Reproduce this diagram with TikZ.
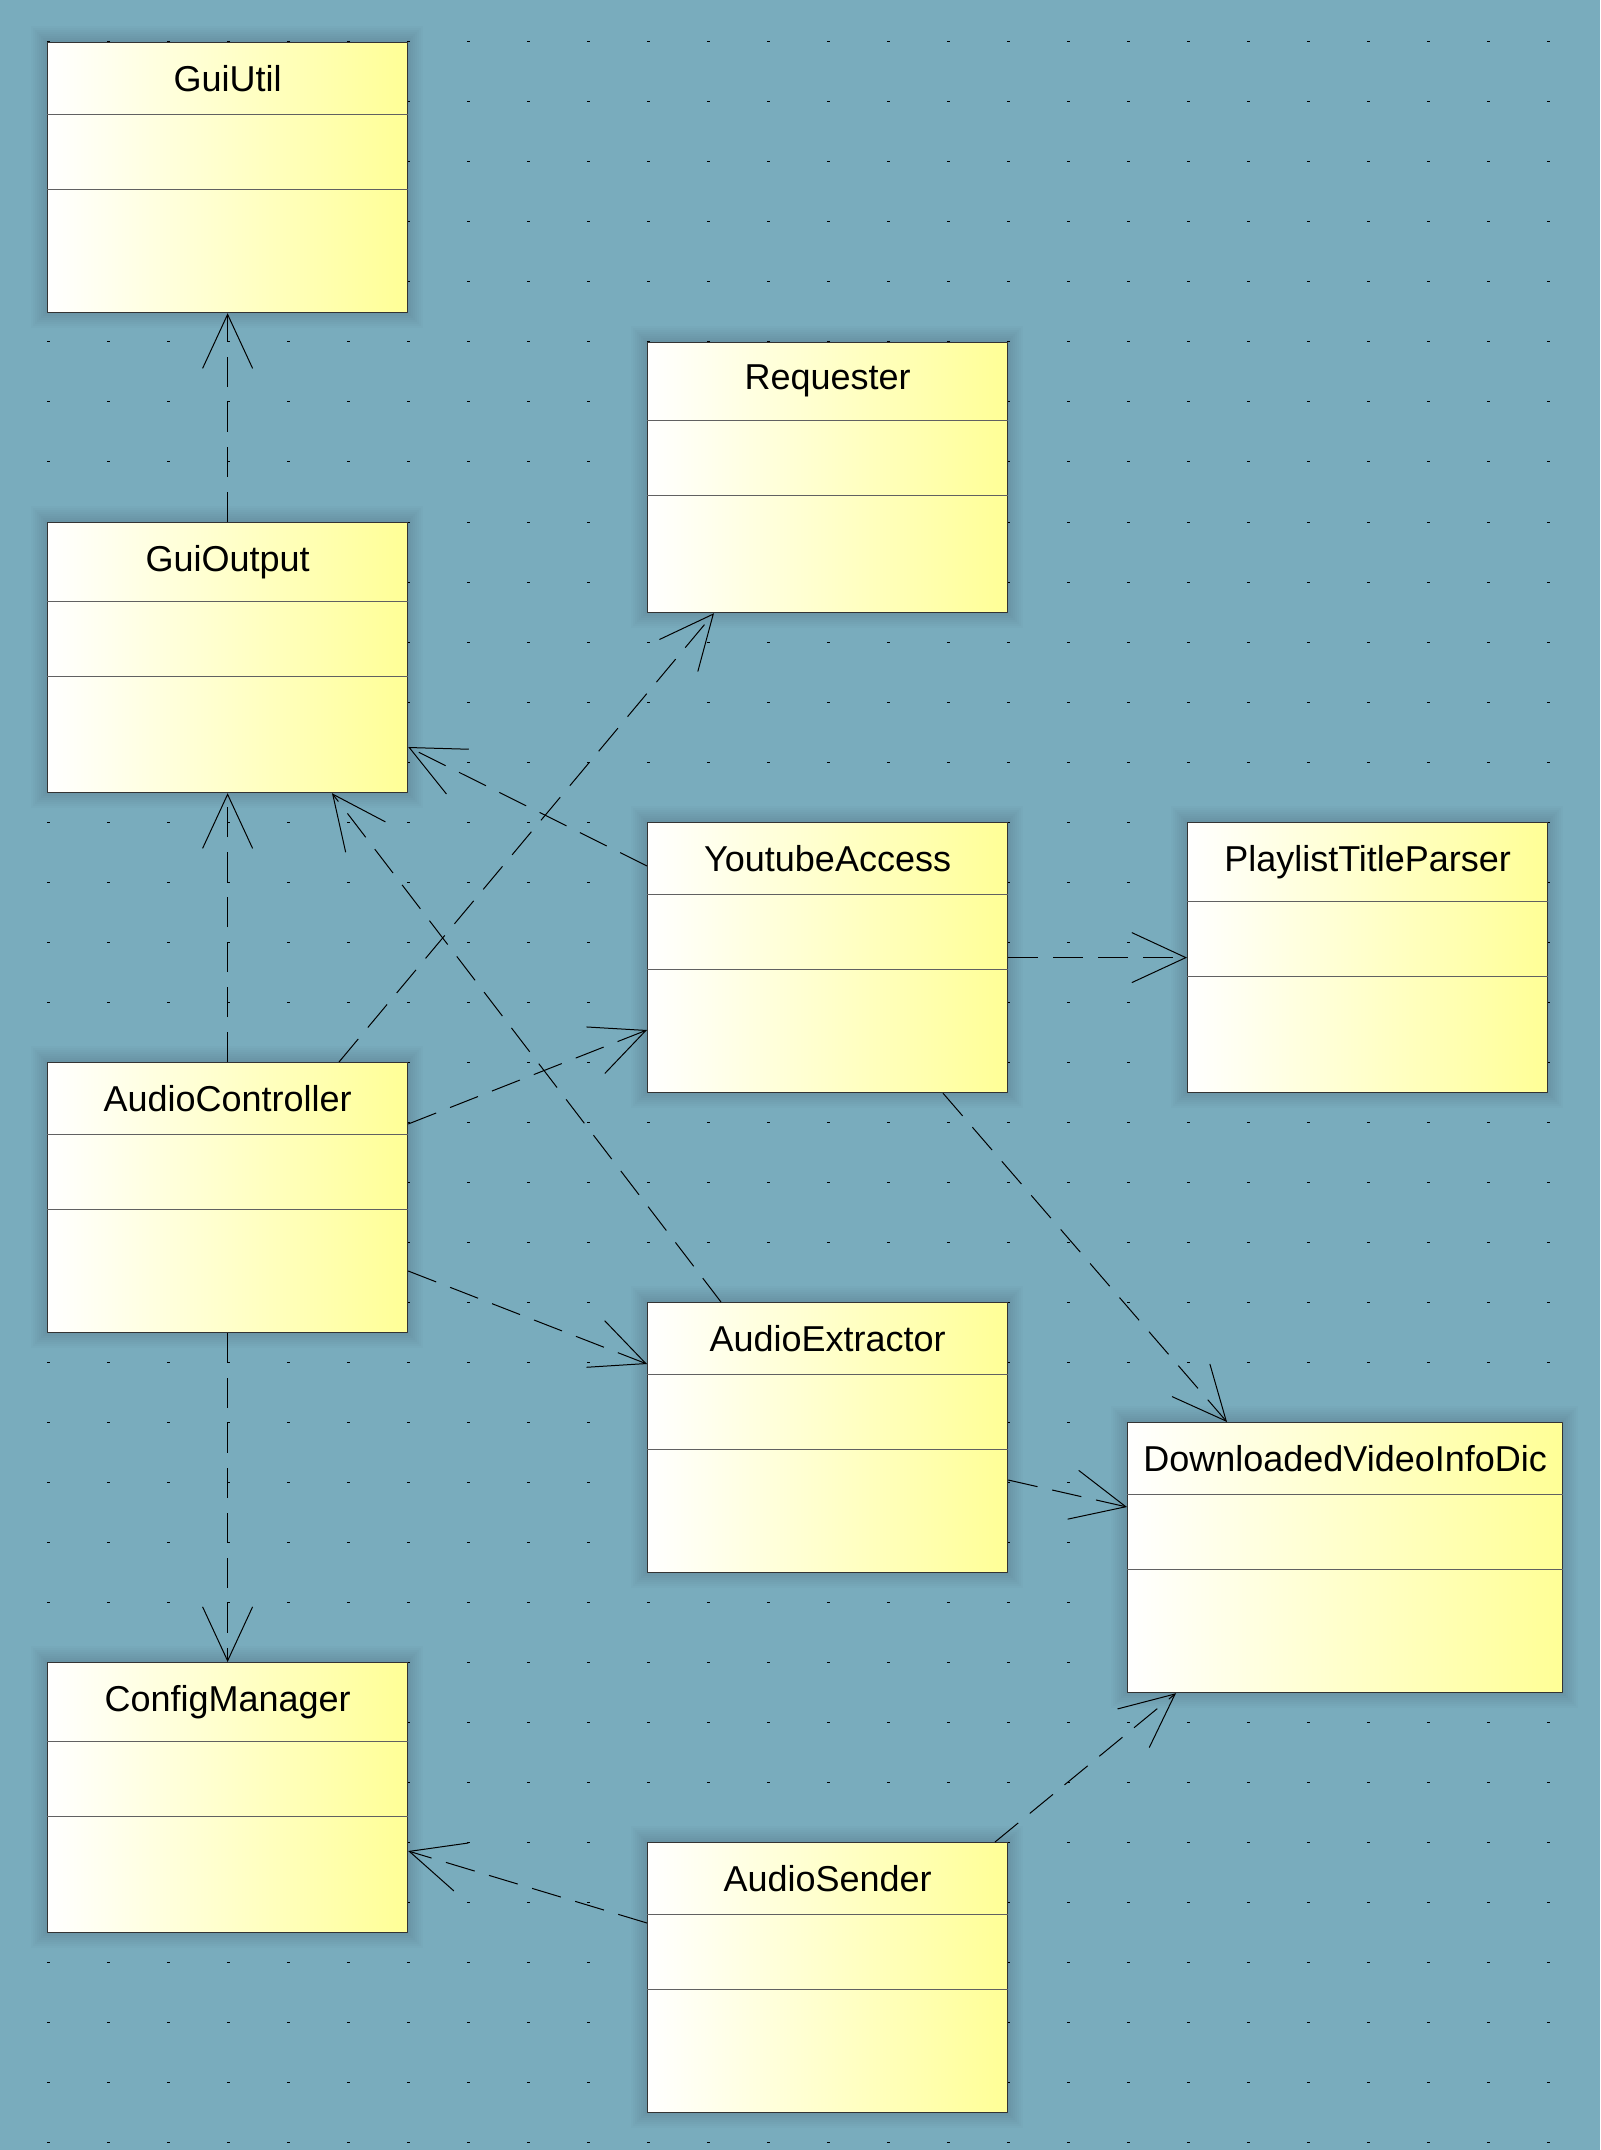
\documentclass[tikz,border=0pt]{standalone}
\usepackage{fontspec}
\setmainfont{Liberation Sans}
\usetikzlibrary{arrows.meta,calc}
\definecolor{bgblue}{RGB}{121,172,189}
\definecolor{classyellow}{RGB}{255,255,150}
\tikzset{
 classbox/.style={draw=black!80, line width=0.6pt, left color=white, right color=classyellow, minimum height=135pt, inner sep=0pt},
 classname/.style={inner xsep=0pt, inner ysep=11.3pt, font=\fontsize{18}{22}\selectfont},
 classsep/.style={draw=black!62, line width=0.6pt},
 dep/.style={line width=0.5pt, dash pattern=on 15pt off 7.5pt, -{Straight Barb[length=27pt,width=25pt,line width=0.5pt]}}
}
\newcommand{\umlclass}[5]{% name, left, top, width, title
 \foreach \s in {2,4,...,16}
  \fill[black,opacity=0.014] (#2-\s,#3-\s) rectangle (#2+#4+\s,#3+270+\s);
 \node[classbox, minimum width=#4*0.5pt, anchor=north west] (#1) at (#2,#3) {};
 \node[classname, anchor=north] (#1-name) at (#1.north) {#5};
 \draw[classsep] (#1.west |- #1-name.south) -- (#1.east |- #1-name.south);
 \draw[classsep] ($(#1.west |- #1-name.south)+(0,75)$) -- ($(#1.east |- #1-name.south)+(0,75)$);
}
\begin{document}
\begin{tikzpicture}[x=0.5pt, y=-0.5pt, line join=round]
 \useasboundingbox (0,0) rectangle (1600,2150);
 \fill[bgblue] (0,0) rectangle (1600,2150);
 \foreach \i in {0,...,25}
  \foreach \j in {0,...,35}
   \fill ({48+60*\i-1.5},{42+60*\j-0.5}) rectangle ++(3,1);
 \umlclass{gutil}{47}{42}{360}{GuiUtil}
 \umlclass{req}{647}{342}{360}{Requester}
 \umlclass{gout}{47}{522}{360}{GuiOutput}
 \umlclass{yt}{647}{822}{360}{YoutubeAccess}
 \umlclass{ptp}{1187}{822}{360}{PlaylistTitleParser}
 \umlclass{ctrl}{47}{1062}{360}{AudioController}
 \umlclass{aex}{647}{1302}{360}{AudioExtractor}
 \umlclass{dvi}{1127}{1422}{435}{DownloadedVideoInfoDic}
 \umlclass{cfg}{47}{1662}{360}{ConfigManager}
 \umlclass{asnd}{647}{1842}{360}{AudioSender}
 \draw[dep] (gout.north) -- (gutil.south);
 \draw[dep] (ctrl.north) -- (gout.south);
 \draw[dep] (ctrl.south) -- (cfg.north);
 \draw[dep] ($(ctrl.north west)+(292,0)$) -- ($(req.south west)+(67,0)$);
 \draw[dep] ($(ctrl.north east)+(0,62)$) -- ($(yt.north west)+(0,208)$);
 \draw[dep] ($(ctrl.north east)+(0,209)$) -- ($(aex.north west)+(0,62)$);
 \draw[dep] ($(yt.north west)+(0,44)$) -- ($(gout.north east)+(0,225)$);
 \draw[dep] ($(aex.north west)+(74,0)$) -- ($(gout.south west)+(285,0)$);
 \draw[dep] (yt.east) -- (ptp.west);
 \draw[dep] ($(yt.south west)+(296,0)$) -- ($(dvi.north west)+(100,0)$);
 \draw[dep] ($(aex.north east)+(0,178)$) -- ($(dvi.north west)+(0,85)$);
 \draw[dep] ($(asnd.north west)+(348,0)$) -- ($(dvi.south west)+(49,0)$);
 \draw[dep] ($(asnd.north west)+(0,81)$) -- ($(cfg.north east)+(0,189)$);
\end{tikzpicture}
\end{document}
